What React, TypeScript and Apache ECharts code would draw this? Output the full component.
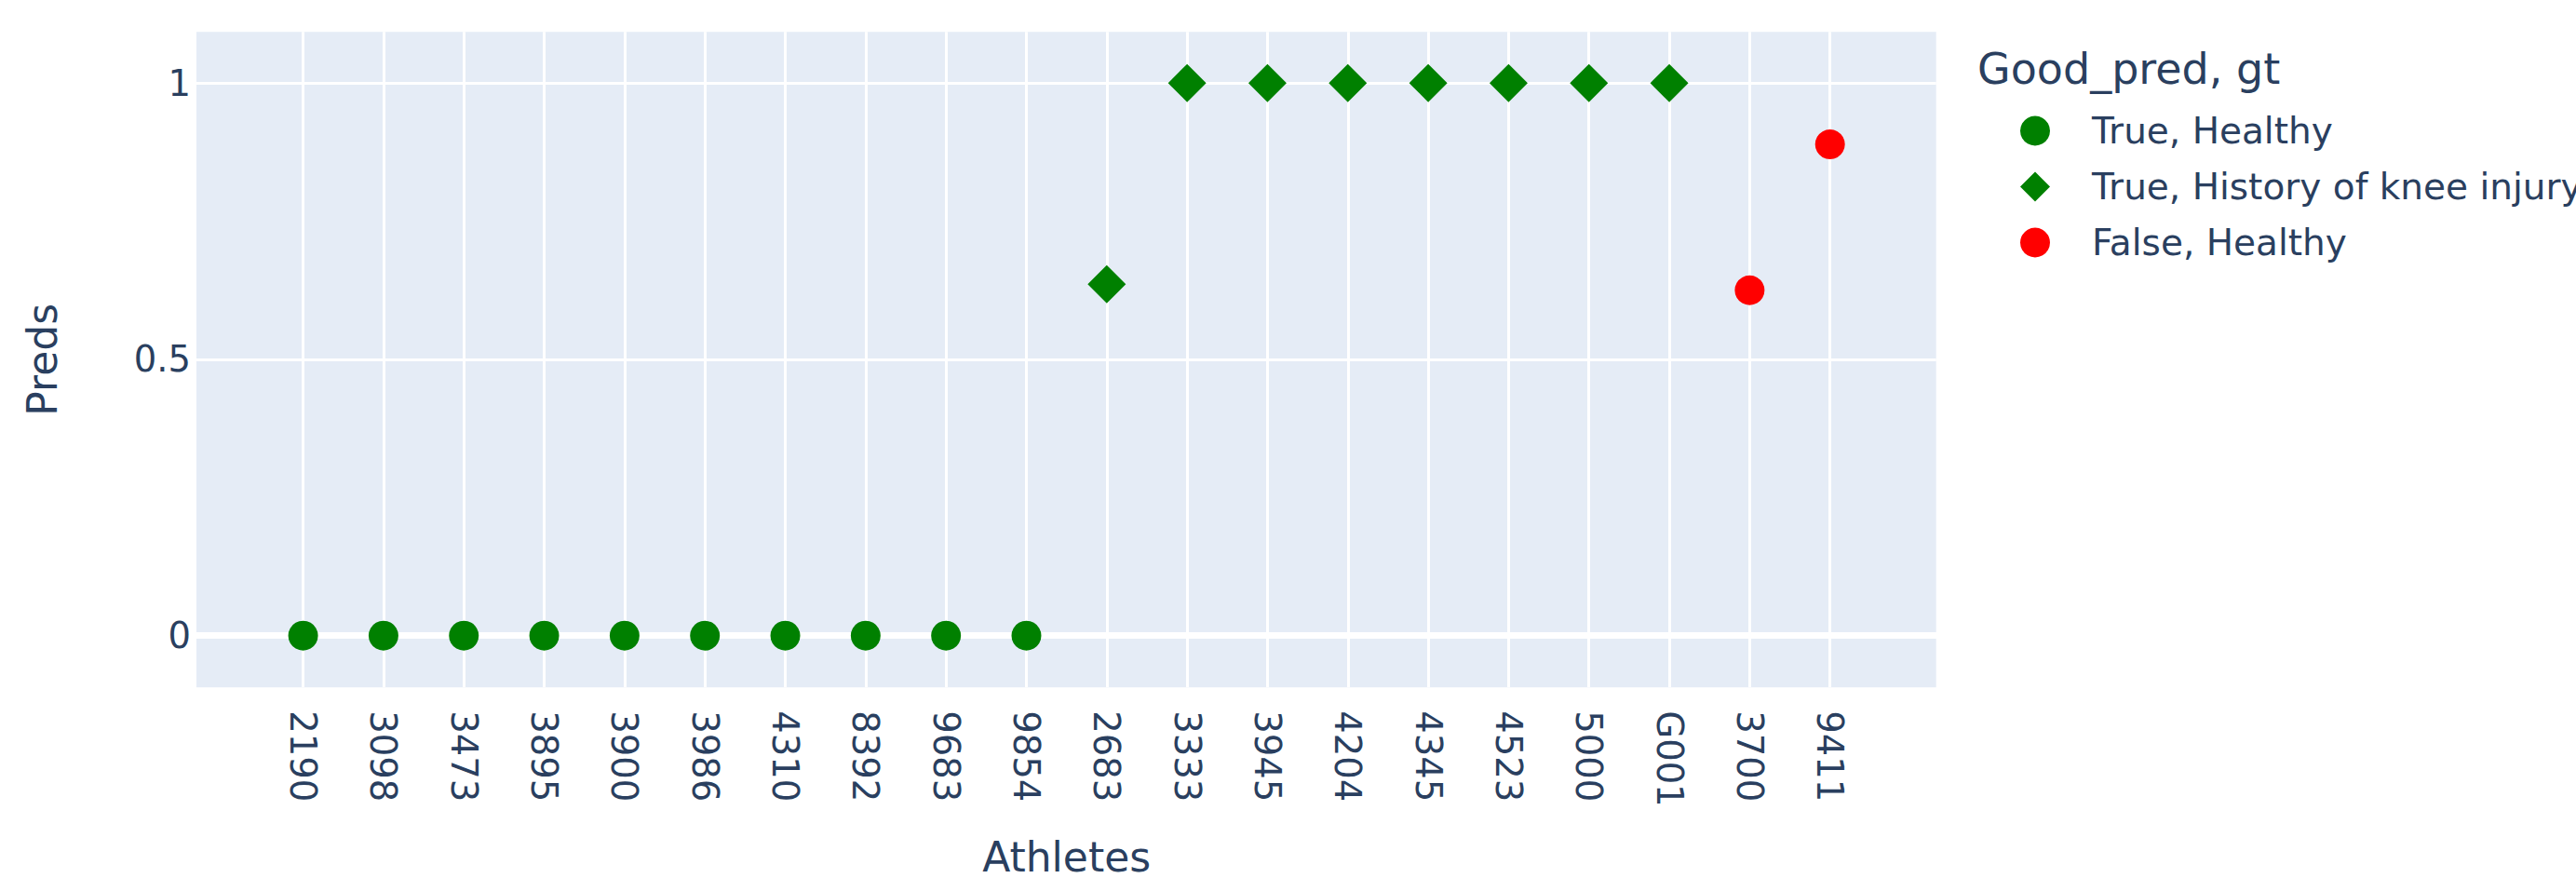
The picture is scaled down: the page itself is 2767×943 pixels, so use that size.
import React, { useEffect, useRef } from "react";
import * as echarts from "echarts";

const athletes = [
  "2190", "3098", "3473", "3895", "3900", "3986", "4310", "8392", "9683", "9854",
  "2683", "3333", "3945", "4204", "4345", "4523", "5000", "G001", "3700", "9411",
];
const preds = [
  0, 0, 0, 0, 0, 0, 0, 0, 0, 0,
  0.636, 1, 1, 1, 1, 1, 1, 1,
  0.625, 0.889,
];
const groups = [
  "True, Healthy", "True, Healthy", "True, Healthy", "True, Healthy", "True, Healthy",
  "True, Healthy", "True, Healthy", "True, Healthy", "True, Healthy", "True, Healthy",
  "True, History of knee injury", "True, History of knee injury", "True, History of knee injury",
  "True, History of knee injury", "True, History of knee injury", "True, History of knee injury",
  "True, History of knee injury", "True, History of knee injury",
  "False, Healthy", "False, Healthy",
];
const seriesNames = ["True, Healthy", "True, History of knee injury", "False, Healthy"];
const seriesColors = ["#008000", "#008000", "#ff0000"];
const seriesSymbols = ["circle", "diamond", "circle"];
const seriesSizes = [32, 41, 32];
const yTicks = [0, 0.5, 1];

const FONT = "DejaVu Sans";
const TXT = "#2a3f5f";

export default function App() {
  const ref = useRef<HTMLDivElement>(null);
  useEffect(() => {
    if (!ref.current) return;
    const chart = echarts.init(ref.current, null, { renderer: "svg" });
    const yMin = -0.0937;
    const yMax = 1.0925;
    const series = seriesNames.map((name, s) => ({
      name,
      type: "scatter",
      xAxisIndex: 1,
      yAxisIndex: 1,
      z: 5,
      symbol: seriesSymbols[s],
      symbolSize: seriesSizes[s],
      itemStyle: { color: seriesColors[s], opacity: 1 },
      data: athletes
        .map((a, i) => (groups[i] === name ? [a, preds[i]] : null))
        .filter((d) => d !== null),
    }));
    chart.setOption({
      animation: false,
      backgroundColor: "#ffffff",
      textStyle: { fontFamily: FONT, color: TXT },
      grid: [
        {
          left: 211,
          top: 34.3,
          width: 1868.7,
          height: 704,
          show: true,
          backgroundColor: "#E5ECF6",
          borderWidth: 0,
          containLabel: false,
          outerBoundsMode: "none",
        },
        {
          left: 325.6,
          top: 34.3,
          width: 1640.1,
          height: 704,
          show: false,
          containLabel: false,
          outerBoundsMode: "none",
        },
      ],
      xAxis: [
        {
          gridIndex: 0,
          type: "value",
          min: 0,
          max: 1,
          z: 2,
          axisLine: { show: true, onZero: true, lineStyle: { color: "#ffffff", width: 7 } },
          axisTick: { show: false },
          axisLabel: { show: false },
          splitLine: { show: false },
        },
        {
          gridIndex: 1,
          type: "category",
          data: athletes,
          boundaryGap: false,
          z: 1,
          axisLine: { show: false, onZero: false },
          axisTick: { show: false },
          splitLine: { show: true, lineStyle: { color: "#ffffff", width: 3 } },
          axisLabel: {
            rotate: -90,
            margin: 25,
            interval: 0,
            fontFamily: FONT,
            fontSize: 38.5,
            color: TXT,
          },
          name: "Athletes",
          nameLocation: "middle",
          nameGap: 160,
          nameTextStyle: { fontFamily: FONT, fontSize: 44, color: TXT },
        },
      ],
      yAxis: [
        {
          gridIndex: 0,
          type: "value",
          min: yMin,
          max: yMax,
          splitNumber: 2,
          z: 0,
          axisLine: { show: false, onZero: false },
          axisTick: { show: false },
          axisLabel: {
            showMinLabel: false,
            showMaxLabel: false,
            margin: 6,
            fontFamily: FONT,
            fontSize: 38.5,
            color: TXT,
            formatter: (v: number) => {
              const t = yTicks.find((k) => Math.abs(k - v) < 1e-9);
              return t === undefined ? "" : String(t);
            },
          },
          splitLine: {
            show: true,
            showMinLine: false,
            showMaxLine: false,
            lineStyle: { color: "#ffffff", width: 3 },
          },
          name: "Preds",
          nameLocation: "middle",
          nameGap: 144,
          nameRotate: 90,
          nameTextStyle: { fontFamily: FONT, fontSize: 44, color: TXT },
        },
        {
          gridIndex: 1,
          type: "value",
          min: yMin,
          max: yMax,
          show: false,
        },
      ],
      legend: {
        orient: "vertical",
        left: 2165,
        top: 116,
        itemWidth: 32,
        itemHeight: 32,
        itemGap: 21,
        data: seriesNames,
        textStyle: {
          fontFamily: FONT,
          fontSize: 39,
          color: TXT,
          padding: [0, 0, 0, 40],
        },
      },
      graphic: [
        {
          type: "text",
          left: 2124,
          top: 51,
          style: {
            text: "Good_pred, gt",
            fontFamily: FONT,
            fontSize: 46,
            fill: TXT,
          },
        },
      ],
      series,
    });
    return () => chart.dispose();
  }, []);
  return (
    <div
      ref={ref}
      style={{ position: "fixed", left: 0, top: 0, width: 2767, height: 943, background: "#fff" }}
    />
  );
}
